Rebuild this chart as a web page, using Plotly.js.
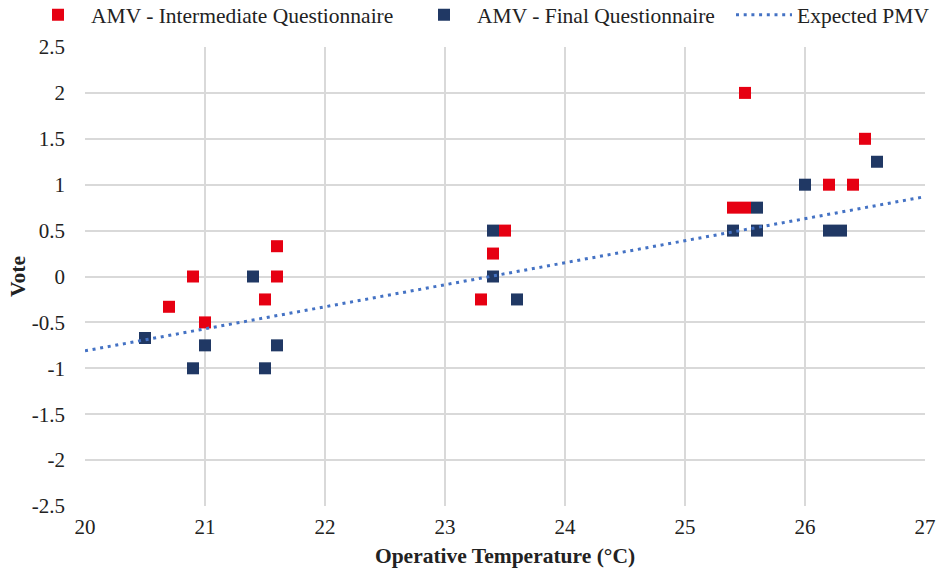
<!DOCTYPE html>
<html>
<head>
<meta charset="utf-8">
<script src="https://cdn.plot.ly/plotly-3.0.1.min.js"></script>
<style>
  html, body { margin: 0; padding: 0; background: #fff; }
  #chart { width: 936px; height: 573px; }
</style>
</head>
<body>
<div id="chart"></div>
<script>
// Actual mean votes against operative temperature
const intermediateTemp = [20.7, 20.9, 21.0, 21.5, 21.6, 21.6, 23.3, 23.4, 23.5, 25.4, 25.5, 25.5, 26.2, 26.4, 26.5];
const intermediateVote = [-0.33, 0, -0.5, -0.25, 0.33, 0, -0.25, 0.25, 0.5, 0.75, 0.75, 2, 1, 1, 1.5];

const finalTemp = [20.5, 20.9, 21.0, 21.4, 21.5, 21.6, 23.4, 23.4, 23.6, 25.4, 25.6, 25.6, 26.0, 26.2, 26.3, 26.6];
const finalVote = [-0.67, -1, -0.75, 0, -1, -0.75, 0.5, 0, -0.25, 0.5, 0.75, 0.5, 1, 0.5, 0.5, 1.25];

// Expected PMV line end points
const pmvTemp = [20, 27];
const pmvVote = [-0.81, 0.87];

const xTicks = [20, 21, 22, 23, 24, 25, 26, 27];
const yTicks = [-2.5, -2, -1.5, -1, -0.5, 0, 0.5, 1, 1.5, 2, 2.5];

const FONT = 'Liberation Serif, Times New Roman, serif';
const RED = '#E60012';
const NAVY = '#203864';
const DOTBLUE = '#4472C4';
const TEXT = '#222222';

const traces = [
  {
    type: 'scatter', mode: 'markers', name: 'AMV - Intermediate Questionnaire',
    x: intermediateTemp, y: intermediateVote,
    marker: { symbol: 'square', size: 12, color: RED },
    legend: 'legend'
  },
  {
    type: 'scatter', mode: 'markers', name: 'AMV - Final Questionnaire',
    x: finalTemp, y: finalVote,
    marker: { symbol: 'square', size: 12, color: NAVY },
    legend: 'legend2'
  },
  {
    type: 'scatter', mode: 'lines', name: 'Expected PMV',
    x: pmvTemp, y: pmvVote,
    line: { color: DOTBLUE, width: 3, dash: '3px,4.7px' },
    legend: 'legend3'
  }
];

const legendBase = {
  orientation: 'h', yanchor: 'top', xanchor: 'left', y: 1.115,
  itemwidth: 56, bgcolor: 'rgba(0,0,0,0)',
  font: { family: FONT, size: 21.5, color: TEXT }
};

const layout = {
  width: 936, height: 573,
  margin: { l: 85, r: 11, t: 47, b: 67, autoexpand: false },
  paper_bgcolor: '#fff', plot_bgcolor: '#fff',
  font: { family: FONT, size: 21, color: TEXT },
  showlegend: true,
  legend: Object.assign({}, legendBase, { x: (25 - 85) / 840 }),
  legend2: Object.assign({}, legendBase, { x: (411 - 85) / 840 }),
  legend3: Object.assign({}, legendBase, { x: (731 - 85) / 840 }),
  xaxis: {
    range: [20, 27], tickvals: xTicks, ticktext: xTicks.map(String),
    showgrid: true, gridcolor: '#D9D9D9', gridwidth: 2,
    zeroline: false, showline: false, ticks: '',
    ticklabelstandoff: 6,
    tickfont: { family: FONT, size: 21, color: TEXT },
    title: { text: '<b>Operative Temperature (°C)</b>', font: { family: FONT, size: 21.5, color: TEXT }, standoff: 9 }
  },
  yaxis: {
    range: [-2.5, 2.5], tickvals: yTicks, ticktext: yTicks.map(String),
    showgrid: true, gridcolor: '#D9D9D9', gridwidth: 2,
    zeroline: false, showline: false, ticks: '',
    ticklabelstandoff: 19,
    tickfont: { family: FONT, size: 21, color: TEXT },
    title: { text: '<b>Vote</b>', font: { family: FONT, size: 21.5, color: TEXT }, standoff: 0 }
  }
};

Plotly.newPlot('chart', traces, layout, { displayModeBar: false, staticPlot: true });
</script>
</body>
</html>
